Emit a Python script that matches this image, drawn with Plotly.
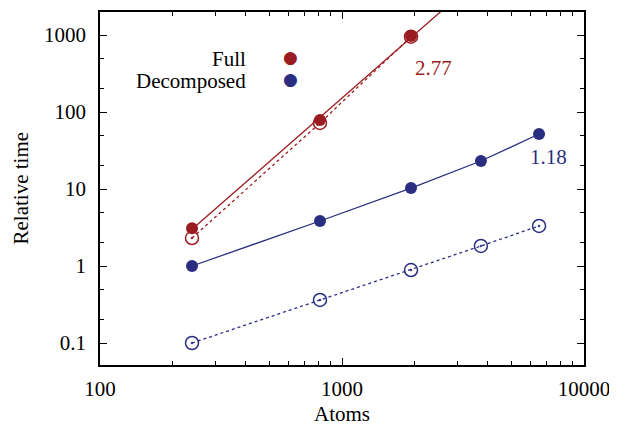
import numpy as np
import plotly.graph_objects as go

# Data
atoms_full = [240, 811, 1928]
full_time = [3.1, 78.7, 970]
full_open = [2.31, 72, 950]
atoms_dec = [240, 811, 1928, 3750, 6520]
dec_time = [1.0, 3.84, 10.3, 23.1, 51.8]
dec_open = [0.1, 0.362, 0.887, 1.82, 3.31]
slope_labels = ["2.77", "1.18"]

RED = "#9b1c20"
BLUE = "#2a2e80"
FONT = "Liberation Serif"

# power-law fit for the full method (line extended past last point)
p = np.polyfit(np.log10(atoms_full), np.log10(full_time), 1)
fit_x = np.array([atoms_full[0], 3000.0])
fit_y = 10 ** np.polyval(p, np.log10(fit_x))

fig = go.Figure()
fig.add_trace(go.Scatter(x=atoms_full, y=full_open, mode="lines+markers",
                         line=dict(color=RED, width=1.3, dash="dot"),
                         marker=dict(symbol="circle-open-dot", size=13, color=RED, line=dict(width=1.5))))
fig.add_trace(go.Scatter(x=fit_x, y=fit_y, mode="lines",
                         line=dict(color=RED, width=1.3)))
fig.add_trace(go.Scatter(x=atoms_full, y=full_time, mode="markers",
                         marker=dict(symbol="circle", size=12, color=RED)))
fig.add_trace(go.Scatter(x=atoms_dec, y=dec_open, mode="lines+markers",
                         line=dict(color=BLUE, width=1.3, dash="dot"),
                         marker=dict(symbol="circle-open-dot", size=13, color=BLUE, line=dict(width=1.5))))
fig.add_trace(go.Scatter(x=atoms_dec, y=dec_time, mode="lines+markers",
                         line=dict(color=BLUE, width=1.3),
                         marker=dict(symbol="circle", size=12, color=BLUE)))

axis_common = dict(type="log", showgrid=False, zeroline=False, showline=True,
                   linecolor="black", linewidth=1.5, mirror="allticks",
                   ticks="inside", ticklen=7, tickcolor="black", tickwidth=1,
                   tickmode="linear", dtick=1, exponentformat="none",
                   automargin=False,
                   tickfont=dict(family=FONT, size=21, color="black"))

fig.update_xaxes(range=[2, 4], ticklabelstandoff=4, tickformat="d",
                 minor=dict(ticks="inside", ticklen=4, tickcolor="black", dtick="D1", showgrid=False),
                 **axis_common)
fig.update_yaxes(range=[np.log10(0.0518), np.log10(1990)], ticklabelstandoff=8,
                 minor=dict(ticks="inside", ticklen=4, tickcolor="black", dtick="D2", showgrid=False),
                 **axis_common)

anns = [
    dict(x=np.log10(1928), y=np.log10(970), xref="x", yref="y", text=slope_labels[0],
         showarrow=False, xshift=22, yshift=-32, font=dict(family=FONT, size=21, color=RED)),
    dict(x=np.log10(6520), y=np.log10(51.8), xref="x", yref="y", text=slope_labels[1],
         showarrow=False, xshift=9, yshift=-23, font=dict(family=FONT, size=21, color=BLUE)),
    dict(x=0.306, y=0.906, xref="paper", yref="paper", text="Full", xanchor="right",
         showarrow=False, font=dict(family=FONT, size=21, color="black")),
    dict(x=0.306, y=0.843, xref="paper", yref="paper", text="Decomposed", xanchor="right",
         showarrow=False, font=dict(family=FONT, size=21, color="black")),
    dict(x=0.393, y=0.906, xref="paper", yref="paper", text="●", xanchor="center",
         showarrow=False, font=dict(family="DejaVu Sans", size=17, color=RED)),
    dict(x=0.393, y=0.843, xref="paper", yref="paper", text="●", xanchor="center",
         showarrow=False, font=dict(family="DejaVu Sans", size=17, color=BLUE)),
    # axis titles
    dict(x=0.5, y=0, xref="paper", yref="paper", text="Atoms", xanchor="center", yanchor="middle",
         yshift=-49, showarrow=False, font=dict(family=FONT, size=21, color="black")),
    dict(x=0, y=0.5, xref="paper", yref="paper", text="Relative time", textangle=-90,
         xanchor="center", yanchor="middle", xshift=-80, showarrow=False,
         font=dict(family=FONT, size=21, color="black")),
]

# the page body adds an 8px offset, so the figure is sized to fit the window
fig.update_layout(width=609, height=419, margin=dict(l=92, r=33, t=4, b=62),
                  paper_bgcolor="white", plot_bgcolor="white", showlegend=False,
                  annotations=anns, font=dict(family=FONT, color="black"))
fig.write_html("out.html")
